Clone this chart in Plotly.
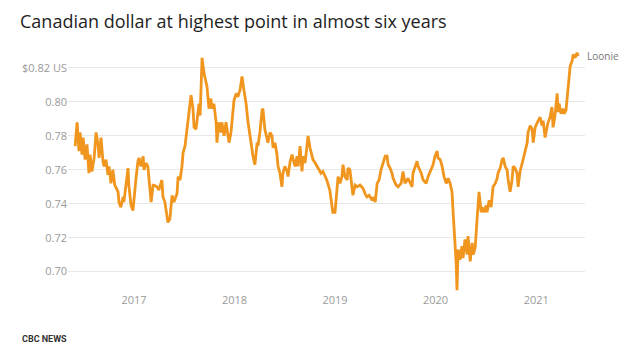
import plotly.graph_objects as go

dates = [
"2016-06-01","2016-06-08","2016-06-15","2016-06-19","2016-06-26","2016-06-30","2016-07-07","2016-07-14","2016-07-21","2016-07-25",
"2016-08-01","2016-08-09","2016-08-16","2016-08-23","2016-08-27","2016-09-03","2016-09-10","2016-09-14","2016-09-21","2016-09-28",
"2016-10-02","2016-10-09","2016-10-16","2016-10-23","2016-11-04","2016-11-07","2016-11-14","2016-11-22","2016-11-25","2016-12-03",
"2016-12-10","2016-12-13","2016-12-21","2016-12-28","2017-01-01","2017-01-08","2017-01-15","2017-01-19","2017-01-26","2017-02-03",
"2017-02-06","2017-02-13","2017-02-20","2017-02-24","2017-03-04","2017-03-11","2017-03-14","2017-03-25","2017-04-01","2017-04-12",
"2017-04-16","2017-04-23","2017-04-30","2017-05-04","2017-05-11","2017-05-19","2017-05-26","2017-06-06","2017-06-10","2017-06-17",
"2017-06-24","2017-06-28","2017-07-05","2017-07-12","2017-07-16","2017-07-23","2017-07-27","2017-08-03","2017-08-07","2017-08-14",
"2017-08-21","2017-08-25","2017-08-29","2017-09-01","2017-09-05","2017-09-12","2017-09-19","2017-09-23","2017-09-30","2017-10-07",
"2017-10-11","2017-10-18","2017-10-26","2017-10-29","2017-11-05","2017-11-13","2017-11-16","2017-11-24","2017-12-01","2017-12-08",
"2017-12-12","2017-12-19","2017-12-26","2017-12-30","2018-01-07","2018-01-13","2018-01-21","2018-01-28","2018-02-04","2018-02-12",
"2018-02-19","2018-02-26","2018-03-06","2018-03-09","2018-03-16","2018-03-24","2018-03-27","2018-04-03","2018-04-11","2018-04-14",
"2018-04-21","2018-04-29","2018-05-02","2018-05-10","2018-05-17","2018-05-21","2018-05-28","2018-06-04","2018-06-08","2018-06-15",
"2018-06-22","2018-06-26","2018-07-03","2018-07-11","2018-07-14","2018-07-22","2018-07-29","2018-08-02","2018-08-09","2018-08-16",
"2018-08-20","2018-08-27","2018-09-03","2018-09-07","2018-09-14","2018-09-21","2018-09-25","2018-10-02","2018-10-10","2018-10-13",
"2018-10-21","2018-10-31","2018-11-11","2018-11-18","2018-12-02","2018-12-13","2018-12-20","2018-12-24","2019-01-01","2019-01-08",
"2019-01-12","2019-01-19","2019-01-26","2019-01-30","2019-02-06","2019-02-14","2019-02-17","2019-02-24","2019-03-04","2019-03-07",
"2019-03-15","2019-03-22","2019-04-02","2019-04-13","2019-04-20","2019-04-27","2019-05-05","2019-05-16","2019-05-19","2019-05-27",
"2019-06-03","2019-06-10","2019-06-17","2019-06-25","2019-07-02","2019-07-09","2019-07-13","2019-07-20","2019-07-27","2019-07-31",
"2019-08-11","2019-08-18","2019-08-29","2019-09-05","2019-09-12","2019-09-23","2019-10-08","2019-10-11","2019-10-26","2019-10-30",
"2019-11-10","2019-11-17","2019-11-28","2019-12-05","2019-12-16","2019-12-23","2019-12-30","2020-01-07","2020-01-10","2020-01-18",
"2020-01-25","2020-02-01","2020-02-09","2020-02-16","2020-02-23","2020-03-01","2020-03-05","2020-03-12","2020-03-16","2020-03-19",
"2020-03-23","2020-03-30","2020-04-06","2020-04-10","2020-04-17","2020-04-25","2020-04-28","2020-05-06","2020-05-13","2020-05-17",
"2020-05-24","2020-05-31","2020-06-04","2020-06-07","2020-06-15","2020-06-18","2020-06-25","2020-07-03","2020-07-06","2020-07-14",
"2020-07-21","2020-07-28","2020-08-05","2020-08-12","2020-08-15","2020-08-23","2020-08-30","2020-09-03","2020-09-10","2020-09-17",
"2020-09-21","2020-09-28","2020-10-05","2020-10-09","2020-10-16","2020-10-23","2020-10-27","2020-11-03","2020-11-11","2020-11-14",
"2020-11-21","2020-11-29","2020-12-02","2020-12-10","2020-12-17","2020-12-21","2020-12-28","2021-01-04","2021-01-08","2021-01-15",
"2021-01-22","2021-01-26","2021-02-02","2021-02-09","2021-02-13","2021-02-20","2021-02-27","2021-03-03","2021-03-10","2021-03-18",
"2021-03-21","2021-03-25","2021-04-01","2021-04-09","2021-04-12","2021-04-19","2021-04-27","2021-04-30","2021-05-04","2021-05-11",
"2021-05-15","2021-05-22","2021-05-29","2021-06-02",
]

loonie_usd = [
0.774,0.788,0.771,0.782,0.769,0.779,0.766,0.775,0.758,0.769,
0.759,0.767,0.782,0.775,0.767,0.779,0.765,0.762,0.766,0.757,
0.762,0.752,0.760,0.751,0.747,0.741,0.738,0.744,0.741,0.751,
0.761,0.751,0.739,0.736,0.745,0.755,0.765,0.767,0.762,0.768,
0.760,0.764,0.762,0.753,0.741,0.751,0.751,0.750,0.748,0.754,
0.744,0.741,0.732,0.729,0.731,0.745,0.741,0.746,0.756,0.754,
0.762,0.770,0.774,0.784,0.792,0.801,0.804,0.796,0.785,0.784,
0.795,0.799,0.792,0.807,0.826,0.817,0.811,0.809,0.796,0.802,
0.796,0.799,0.788,0.776,0.788,0.782,0.788,0.780,0.788,0.778,
0.776,0.782,0.792,0.801,0.805,0.803,0.807,0.815,0.807,0.799,
0.788,0.780,0.774,0.768,0.763,0.776,0.774,0.782,0.795,0.796,
0.784,0.778,0.776,0.782,0.780,0.773,0.776,0.769,0.762,0.758,
0.750,0.758,0.762,0.759,0.756,0.765,0.769,0.766,0.762,0.768,
0.762,0.774,0.759,0.768,0.764,0.774,0.780,0.773,0.768,0.766,
0.764,0.761,0.758,0.759,0.754,0.748,0.741,0.735,0.735,0.748,
0.756,0.752,0.756,0.763,0.756,0.754,0.761,0.760,0.748,0.745,
0.751,0.750,0.751,0.749,0.746,0.744,0.745,0.742,0.744,0.741,
0.752,0.754,0.760,0.765,0.768,0.768,0.763,0.761,0.758,0.755,
0.751,0.750,0.752,0.759,0.752,0.755,0.750,0.758,0.765,0.762,
0.758,0.754,0.752,0.756,0.760,0.763,0.768,0.771,0.767,0.766,
0.762,0.756,0.752,0.755,0.752,0.747,0.735,0.717,0.705,0.689,
0.713,0.707,0.715,0.708,0.719,0.710,0.721,0.706,0.717,0.710,
0.714,0.731,0.744,0.747,0.735,0.738,0.735,0.739,0.735,0.742,
0.738,0.750,0.752,0.755,0.758,0.761,0.766,0.767,0.762,0.760,
0.754,0.747,0.754,0.762,0.761,0.758,0.750,0.759,0.764,0.766,
0.769,0.776,0.782,0.786,0.784,0.776,0.785,0.788,0.789,0.791,
0.786,0.789,0.779,0.785,0.788,0.791,0.797,0.785,0.792,0.805,
0.794,0.799,0.793,0.796,0.793,0.795,0.809,0.815,0.821,0.824,
0.828,0.826,0.829,0.827,
]

y_tick_vals = [0.70, 0.72, 0.74, 0.76, 0.78, 0.80, 0.82]
y_tick_text = ["0.70", "0.72", "0.74", "0.76", "0.78", "0.80", "$0.82 US"]
x_tick_vals = ["2017-01-01", "2018-01-01", "2019-01-01", "2020-01-01", "2021-01-01"]
x_tick_text = ["2017", "2018", "2019", "2020", "2021"]

title_text = "Canadian dollar at highest point in almost six years"
series_label = "Loonie"
source_text = "CBC NEWS"

ORANGE = "#f0961e"
FONT = "Open Sans"
W, H = 640, 360
ML, MR, MT, MB = 68, 55, 50, 68

fig = go.Figure()
fig.add_trace(go.Scatter(
    x=dates, y=loonie_usd, mode="lines",
    line=dict(color=ORANGE, width=2.8),
    hoverinfo="x+y", showlegend=False,
))

fig.add_annotation(
    x=dates[-1], y=loonie_usd[-1], text=series_label,
    xref="x", yref="y", xanchor="left", yanchor="middle",
    xshift=7, yshift=0, showarrow=False,
    font=dict(family=FONT, size=10, color="#777777"),
)

fig.add_annotation(
    text=source_text, showarrow=False, xanchor="left", yanchor="middle",
    xref="paper", yref="paper",
    x=(20 - ML) / (W - ML - MR), y=(H - MB - 339) / (H - MB - MT),
    font=dict(family="Roboto", size=9, color="#333333", weight="bold"),
)

fig.update_layout(
    width=W, height=H,
    margin=dict(l=ML, r=MR, t=MT, b=MB),
    paper_bgcolor="white", plot_bgcolor="white",
    font=dict(family=FONT, color="#999999", size=11),
    title=dict(
        text=title_text, x=20 / W, xref="container", xanchor="left",
        y=1 - 22 / H, yref="container", yanchor="middle",
        font=dict(family=FONT, size=18, color="#1e1e1e"),
    ),
    xaxis=dict(
        range=["2016-05-06", "2021-06-27"],
        tickvals=x_tick_vals, ticktext=x_tick_text,
        showgrid=False, showline=False, zeroline=False, ticks="",
        tickfont=dict(size=11, color="#9a9a9a"),
    ),
    yaxis=dict(
        range=[0.688, 0.8306],
        tickvals=y_tick_vals, ticktext=y_tick_text,
        showgrid=True, gridcolor="#e8e8e8", gridwidth=1,
        showline=False, zeroline=False, ticks="",
        tickfont=dict(size=11, color="#9a9a9a"),
    ),
)

fig.write_html(
    "out.html",
    config={"displayModeBar": False},
    post_script="document.body.style.margin='0';",
)
